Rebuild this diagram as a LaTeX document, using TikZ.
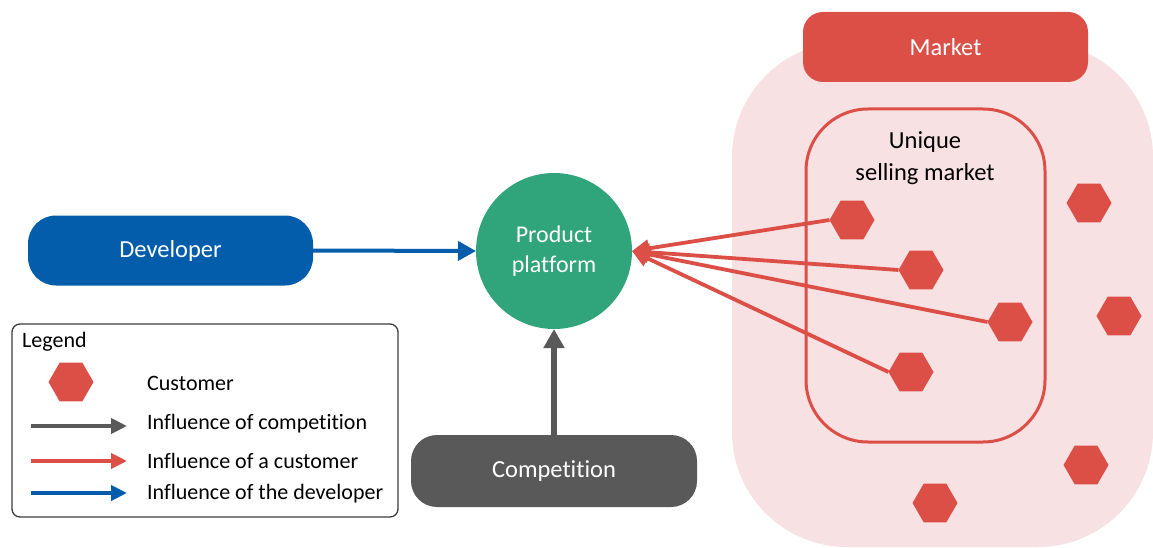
\documentclass[tikz,border=0pt]{standalone}
\usepackage{fontspec}
\setmainfont{Carlito}[Ligatures={NoCommon}]
\usetikzlibrary{shapes.geometric,arrows.meta}

\definecolor{mred}{RGB}{220,79,71}
\definecolor{mpink}{RGB}{248,225,226}
\definecolor{dblue}{RGB}{4,93,170}
\definecolor{pgreen}{RGB}{48,164,122}
\definecolor{cgray}{RGB}{89,89,89}
\definecolor{lframe}{RGB}{60,60,60}

\tikzset{
  customer/.style={regular polygon, regular polygon sides=6, fill=mred,
    minimum size=45pt, inner sep=0pt, outer sep=0pt},
  pill/.style={rounded corners=28pt, inner sep=0pt, outer sep=0pt,
    text=white, font=\fontsize{24.5}{29}\selectfont},
  infl/.style={line width=3.8pt, -{Triangle[length=17pt,width=17pt]}},
  legarrow/.style={line width=4pt, -{Triangle[length=16pt,width=15pt]}},
  legtext/.style={anchor=west, inner sep=0pt, font=\fontsize{22}{26}\selectfont},
}

\begin{document}
\begin{tikzpicture}[x=1pt,y=-1pt]
\useasboundingbox (0,0) rectangle (1153,548);

% market area
\fill[mpink, rounded corners=115pt] (732,42) rectangle (1153,547);
\node[fill=mred, rounded corners=20pt, minimum width=285pt, minimum height=70pt,
  inner sep=0pt, text=white, font=\fontsize{24.5}{29}\selectfont] (market) at (945.5,47) {Market};

% unique selling market
\draw[mred, line width=3pt, rounded corners=62pt] (806,109) rectangle (1045,442);
\node[align=center, font=\fontsize{24.5}{32}\selectfont, text=black] (usm) at (925,158)
  {Unique\\selling market};

% customers
\node[customer] (c1) at (852,220) {};
\node[customer] (c2) at (921,270) {};
\node[customer] (c3) at (1010,322) {};
\node[customer] (c4) at (911,372) {};
\node[customer] (c5) at (1089,203) {};
\node[customer] (c6) at (1119,316) {};
\node[customer] (c7) at (1086,465) {};
\node[customer] (c8) at (935,503) {};

% product platform
\node[circle, fill=pgreen, minimum size=156pt, inner sep=0pt, outer sep=0pt,
  align=center, text=white, font=\fontsize{24}{30}\selectfont] (pp) at (554,251)
  {\raisebox{-2pt}{Product}\\\raisebox{-2pt}{platform}};

% developer and competition
\node[pill, fill=dblue, minimum width=285pt, minimum height=70pt] (dev) at (170.5,250.5) {\raisebox{-2pt}{Developer}};
\node[pill, fill=cgray, rounded corners=26pt, minimum width=286pt, minimum height=72pt] (comp) at (554,471) {\raisebox{-2pt}{Competition}};

% influences
\draw[infl, dblue, line width=4pt, -{Triangle[length=18pt,width=19pt]}] (dev.east) -- (pp.west);
\draw[infl, cgray, line width=5.5pt, -{Triangle[length=19pt,width=20pt]}] (comp.north) -- (pp.south);
\foreach \c in {c1,c2,c3,c4}
  \draw[infl, mred] (\c.west) -- (pp.east);

% legend
\draw[lframe, line width=1.3pt, rounded corners=8pt] (12,324) rectangle (398,517);
\node[legtext] (lt) at (22,342) {Legend};
\node[customer] (lc) at (71,382) {};
\node[legtext] (l1) at (147,383) {Customer};
\coordinate (g0) at (31,426);
\coordinate (g1) at (127,426);
\coordinate (r0) at (31,461);
\coordinate (r1) at (127,461);
\coordinate (b0) at (31,493);
\coordinate (b1) at (127,493);
\draw[legarrow, cgray] (g0) -- (g1);
\draw[legarrow, mred] (r0) -- (r1);
\draw[legarrow, dblue] (b0) -- (b1);
\node[legtext] (l2) at (147,424) {Influence of competition};
\node[legtext] (l3) at (147,461) {Influence of a customer};
\node[legtext] (l4) at (147,494) {Influence of the developer};
\end{tikzpicture}
\end{document}
